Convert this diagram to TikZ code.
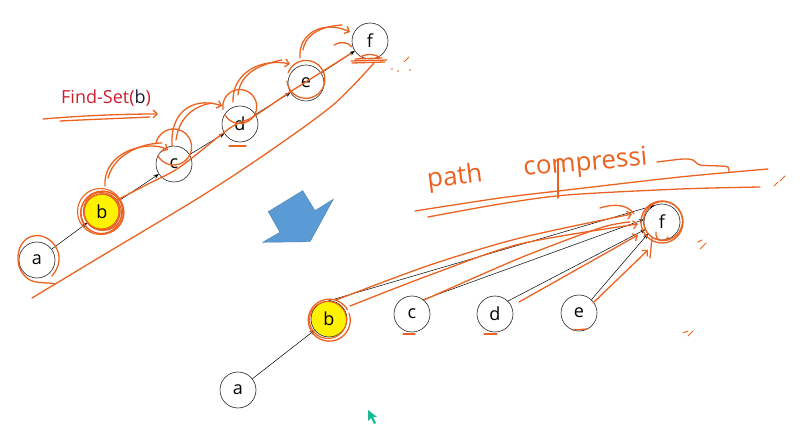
\documentclass[tikz,border=0pt]{standalone}
\usepackage{fontspec}
\setmainfont{Open Sans}
\usetikzlibrary{arrows.meta,calc}
\definecolor{orng}{RGB}{236,98,32}
\definecolor{fsred}{RGB}{205,30,45}
\definecolor{fsdark}{RGB}{30,30,60}
\definecolor{arrblue}{RGB}{91,155,213}
\definecolor{arredge}{RGB}{70,120,170}
\definecolor{ybg}{RGB}{255,242,0}
\definecolor{cursorc}{RGB}{25,185,150}
\begin{document}
\begin{tikzpicture}[x=1pt,y=-1pt,
  vtx/.style={circle,draw=black!85,line width=0.6pt,minimum size=36pt,inner sep=0pt,font=\fontsize{18}{18}\selectfont,fill=white},
  hl/.style={vtx,fill=ybg},
  arr/.style={-{Stealth[length=5pt,width=4pt]},line width=0.5pt,black},
  ann/.style={draw=orng,line width=1.3pt,line cap=round,line join=round},
  hook/.style={ann,-{Straight Barb[length=4pt,width=8pt]}},
]
\useasboundingbox (0,0) rectangle (807,425);

% ---------- top chain ----------
\node[vtx] (ta) at (37,260) {a};
\node[hl]  (tb) at (102,212) {b};
\node[vtx] (tc) at (174,164) {c};
\node[vtx] (td) at (240,124) {d};
\node[vtx] (te) at (306,83) {e};
\node[vtx] (tf) at (370,41) {f};
\draw[arr] (ta) -- (tb);
\draw[arr] (tb) -- (tc);
\draw[arr] (tc) -- (td);
\draw[arr] (td) -- (te);
\draw[arr] (te) -- (tf);

% Find-Set(b)
\node[anchor=base west,font=\fontsize{18}{18}\selectfont,inner sep=0pt] (fs) at (61,104)
  {\textcolor{fsred}{Find-Set(}\textcolor{fsdark}{b}\textcolor{fsred}{)}};

% ---------- blue arrow ----------
\fill[arrblue,draw=arredge,line width=0.4pt]
  (302.7,190.7) -- (315,210.7) -- (333.3,199.3) -- (310,241.7)
  -- (262.7,242.3) -- (280,232.3) -- (268.3,211.7) -- cycle;

% ---------- bottom star ----------
\node[vtx] (ba) at (238,390) {a};
\node[hl]  (bb) at (329,319) {b};
\node[vtx] (bc) at (412,314) {c};
\node[vtx] (bd) at (495,314) {d};
\node[vtx] (be) at (579,313) {e};
\node[vtx] (bf) at (662,222) {f};
\draw[arr] (ba) -- (bb);
\draw[arr] (bb.90) -- (bf.115);
\draw[arr] (bc.52) -- (bf.172);
\draw[arr] (bd.45) -- (bf.204);
\draw[arr] (be.47) -- (bf.220);

% ---------- orange annotations: top ----------
% long line under chain
\draw[ann] plot[smooth] coordinates {(32,298) (100,257) (200,197) (267,153) (333,105) (374,63)};
% Find-Set underline
\draw[hook] (43,119) .. controls (90,115) and (130,114) .. (158,114);
\draw[ann] (60,121) .. controls (100,119) and (130,118) .. (150,117);
% around a
\draw[ann] (52,276) .. controls (70,255) and (50,232) .. (33,236)
  .. controls (15,240) and (12,270) .. (30,280) .. controls (38,284) and (48,282) .. (55,284);
% heavy scribble around b
\foreach \dx/\dy/\r in {0/0/18, 1/-1/19.5, -1/1/20.5, 0.5/0.5/21.5, -1.5/-0.5/23, -0.5/-0.5/17.5}
  \draw[ann,line width=1.1pt] ($(tb)+(\dx,\dy)$) circle (\r);
% line along the chain
\draw[ann] plot[smooth] coordinates {(117,200) (150,183) (180,167) (230,128) (253,117) (290,92) (320,73) (350,54)};
% loops over the arrows
\draw[hook] (105,186) .. controls (103,150) and (150,140) .. (168,150);
\draw[ann] (108,178) .. controls (115,152) and (145,143) .. (162,143);
\draw[hook] (172,146) .. controls (170,105) and (200,98) .. (222,106);
\draw[ann] (176,140) .. controls (180,112) and (200,105) .. (212,103);
\draw[hook] (233,102) .. controls (232,72) and (262,58) .. (290,64);
\draw[ann] (238,95) .. controls (240,72) and (262,64) .. (282,60);
\draw[hook] (300,58) .. controls (298,32) and (325,20) .. (350,32);
\draw[ann] (303,50) .. controls (306,32) and (325,26) .. (342,25);
\draw[ann] (334,45) .. controls (340,41) and (348,42) .. (352,47);
% circles around c, d, e
\draw[ann] ($(tc)+(-16,-8)$) arc[start angle=150,end angle=-170,radius=18];
\draw[ann] ($(td)+(-15,-9)$) arc[start angle=150,end angle=-190,radius=17];
\draw[ann] ($(te)+(-19,-2)$) arc[start angle=175,end angle=-160,radius=19];
\draw[ann] (229,146) -- (246,146);
% f base scribble and dots
\draw[ann] (351,61) -- (387,60);
\draw[ann] (352,63) -- (385,62);
\draw[ann] (355,59) -- (382,58);
\draw[ann] (360,57) .. controls (368,53) and (376,54) .. (380,58);
\foreach \p in {(392,69),(398,71),(410,70)}
  \fill[orng] \p circle (0.9);
\draw[ann,line width=0.9pt] (404,62) -- (409,57);

% ---------- orange annotations: bottom ----------
% "path compression"
\node[anchor=base west,text=orng,font=\fontsize{26}{26}\selectfont,inner sep=0pt,rotate=7] (pt) at (428,188) {path};
\node[anchor=base west,text=orng,font=\fontsize{26}{26}\selectfont,inner sep=0pt,rotate=5] (cp) at (524,176) {compressi};
\draw[ann] plot[smooth] coordinates {(657,162) (683,159) (693,160) (700,165) (720,166) (728,167) (729,172)};
\draw[ann] (558,160) -- (558,198);
\draw[ann] plot[smooth] coordinates {(415,211) (500,198) (567,190) (680,177) (768,169)};
\draw[ann] plot[smooth] coordinates {(428,217) (500,204) (567,195) (680,189) (760,187)};
\draw[ann,line width=1pt] (774,186) -- (778,182);
\draw[ann,line width=1pt] (780,181) -- (785,176);
% around b
\draw[ann] (bb) ++(20,-6) arc[start angle=-20,end angle=330,radius=21];
\draw[ann,line width=1.1pt] ($(bb)+(-1,1)$) circle (18.5);
% lines to f
\draw[hook] plot[smooth] coordinates {(336,300) (430,265) (520,238) (632,214)};
\draw[hook] plot[smooth] coordinates {(350,306) (430,275) (520,244) (638,224)};
\draw[ann] plot[smooth] coordinates {(424,300) (520,258) (600,228) (630,222)};
\draw[hook] (519,302) -- (638,235);
\draw[hook] (593,303) -- (648,250);
\draw[ann] (652,238) -- (650,258);
\draw[ann] (600,208) .. controls (615,203) and (628,205) .. (634,214);
% around f
\draw[ann] (bf) circle (21);
\draw[ann] ($(bf)+(1,-1)$) circle (19.5);
\draw[ann] (656,232) .. controls (655,242) and (665,243) .. (668,237);
% underlines under c, d, e
\draw[ann] (403,334) -- (415,334);
\draw[ann] (484,334) -- (497,334);
\draw[ann] (573,330) -- (587,329);
% small marks
\draw[ann,line width=1pt] (698,242) -- (702,240);
\draw[ann,line width=1pt] (700,249) -- (706,243);
\draw[ann,line width=1pt] (683,333) -- (688,331);
\draw[ann,line width=1pt] (688,336) -- (693,331);

% ---------- mouse cursor ----------
\fill[cursorc] (368,410) -- (368,421) -- (371,418) -- (374,424) -- (376,423) -- (373,417) -- (377,417) -- cycle;
\end{tikzpicture}
\end{document}
